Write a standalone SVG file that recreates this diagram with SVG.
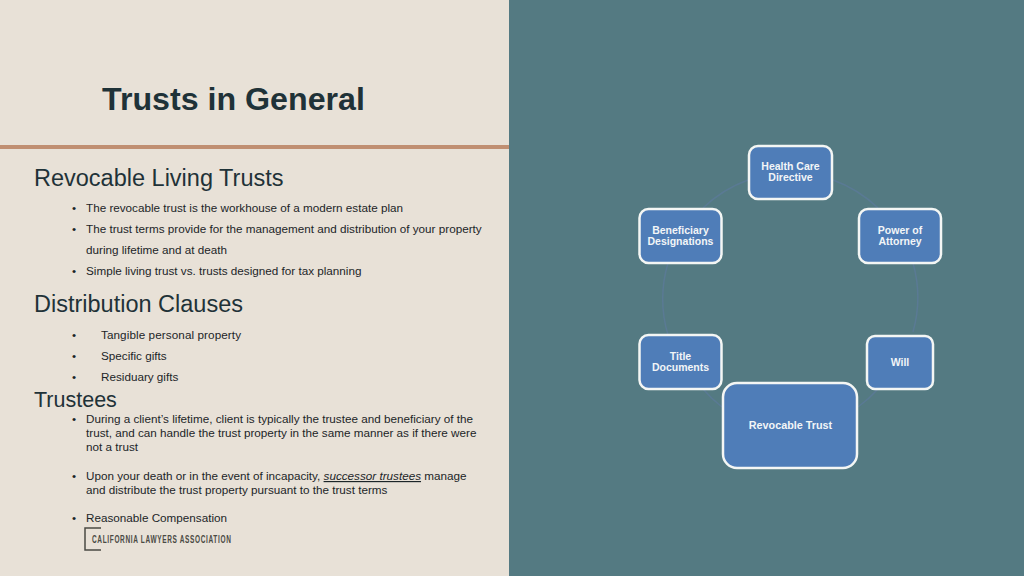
<svg xmlns="http://www.w3.org/2000/svg" width="1024" height="576" viewBox="0 0 1024 576">
<style>
text{font-family:"Liberation Sans",Arial,sans-serif}
.h{font-size:23.500px;fill:#1f3238}
.b{font-size:11.700px;fill:#1c2528}
.n rect{fill:#4f7db8;stroke:#f4f6f4;stroke-width:2.5}
.n text{font-size:10.500px;font-weight:bold;fill:#f2f5f7;text-anchor:middle}
#connectors path{fill:none;stroke:#5a7a94;stroke-width:1.5}
</style>
<rect width="1024" height="576" fill="#e8e1d7"/>
<rect x="509" width="515" height="576" fill="#547a82"/>
<rect y="145" width="509" height="4" fill="#c08f72"/>
<text x="102" y="110" font-size="32.200" font-weight="bold" fill="#1f3238">Trusts in General</text>
<text class="h" x="34" y="185.500">Revocable Living Trusts</text>
<text class="b" x="72" y="212">•</text><text class="b" x="86" y="212">The revocable trust is the workhouse of a modern estate plan</text>
<text class="b" x="72" y="233">•</text><text class="b" x="86" y="233">The trust terms provide for the management and distribution of your property</text>
<text class="b" x="86" y="254">during lifetime and at death</text>
<text class="b" x="72" y="275">•</text><text class="b" x="86" y="275">Simple living trust vs. trusts designed for tax planning</text>
<text class="h" x="34" y="312">Distribution Clauses</text>
<text class="b" x="72" y="338.500">•</text><text class="b" x="101" y="338.500" textLength="140">Tangible personal property</text>
<text class="b" x="72" y="359.500">•</text><text class="b" x="101" y="359.500">Specific gifts</text>
<text class="b" x="72" y="380.500">•</text><text class="b" x="101" y="380.500">Residuary gifts</text>
<text x="34" y="407" font-size="21.500" fill="#1f3238">Trustees</text>
<text class="b" x="72" y="423">•</text><text class="b" x="86" y="423">During a client’s lifetime, client is typically the trustee and beneficiary of the</text>
<text class="b" x="86" y="437">trust, and can handle the trust property in the same manner as if there were</text>
<text class="b" x="86" y="451">not a trust</text>
<text class="b" x="72" y="480">•</text><text class="b" x="86" y="480">Upon your death or in the event of incapacity, <tspan font-style="italic" text-decoration="underline">successor trustees</tspan> manage</text>
<text class="b" x="86" y="494">and distribute the trust property pursuant to the trust terms</text>
<text class="b" x="72" y="522">•</text><text class="b" x="86" y="522">Reasonable Compensation</text>
<path d="M101 528H85V550H101" fill="none" stroke="#4a4a44" stroke-width="1.5"/>
<text x="92" y="543" font-size="10" font-weight="bold" fill="#4a4a44" letter-spacing="1" textLength="139.500" lengthAdjust="spacingAndGlyphs">CALIFORNIA LAWYERS ASSOCIATION</text>
<g id="connectors">
<path d="M833 180A127 127 0 0 1 878 208"/>
<path d="M913 263A127 127 0 0 1 913 332"/>
<path d="M878 389A127 127 0 0 1 858 407"/>
<path d="M703 389A127 127 0 0 0 722 407"/>
<path d="M668 335A127 127 0 0 1 668 263"/>
<path d="M703 208A127 127 0 0 1 748 180"/>
</g>
<g id="node-health" class="n"><rect x="749" y="146" width="83" height="53" rx="9"/><text x="790.500" y="170">Health Care</text><text x="790.500" y="181">Directive</text></g>
<g id="node-poa" class="n"><rect x="859" y="209" width="82" height="54" rx="9"/><text x="900" y="233.500">Power of</text><text x="900" y="244.500">Attorney</text></g>
<g id="node-will" class="n"><rect x="867" y="336" width="66" height="53" rx="8"/><text x="900" y="365.500">Will</text></g>
<g id="node-trust" class="n"><rect x="723" y="383" width="134" height="85" rx="14"/><text x="790.500" y="429" style="font-size:10.800px">Revocable Trust</text></g>
<g id="node-title" class="n"><rect x="639.500" y="335" width="82" height="54" rx="9"/><text x="680.500" y="360">Title</text><text x="680.500" y="371">Documents</text></g>
<g id="node-beneficiary" class="n"><rect x="639.500" y="209" width="82" height="54" rx="9"/><text x="680.500" y="233.500">Beneficiary</text><text x="680.500" y="244.500">Designations</text></g>
</svg>
